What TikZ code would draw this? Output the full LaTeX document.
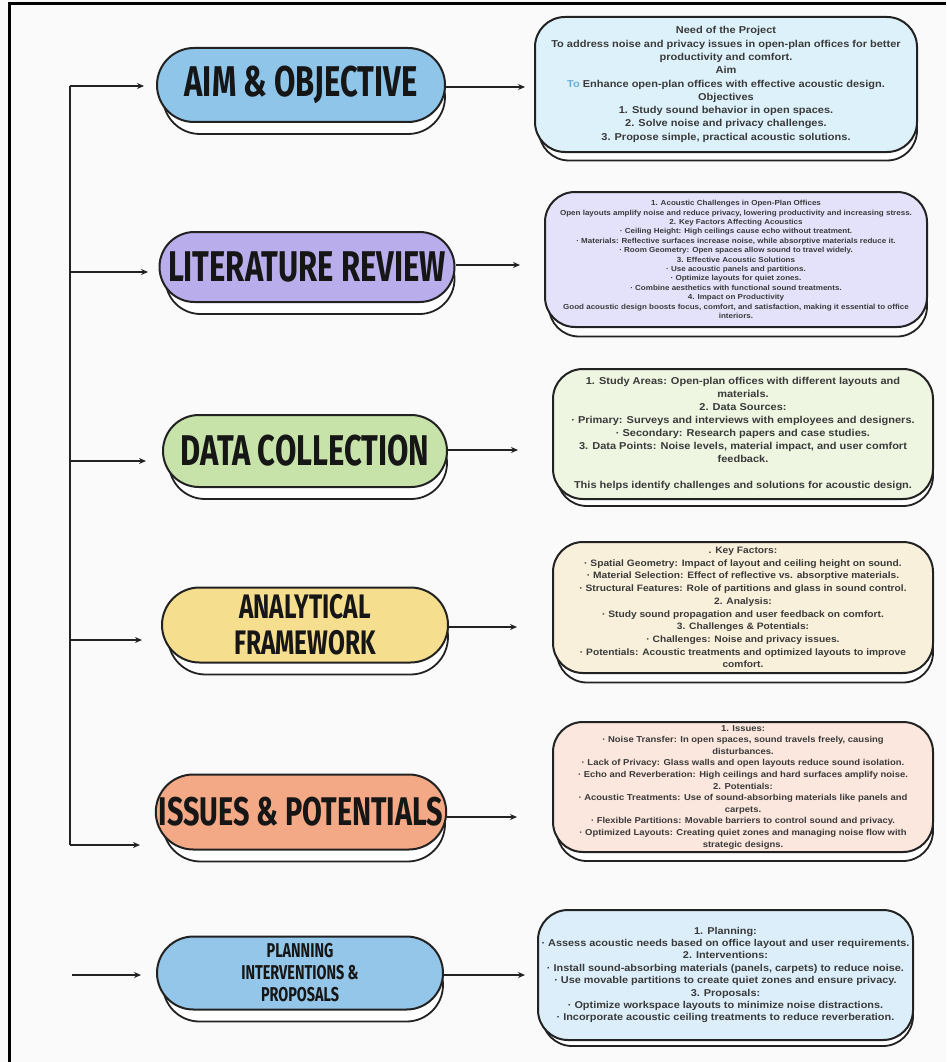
\documentclass[tikz,border=0pt]{standalone}
\usepackage{fontspec}
\setmainfont{Liberation Sans}[FakeStretch=1.1]
\newfontfamily\titlefont[FakeStretch=0.72]{Fira Sans}
\usetikzlibrary{arrows.meta,shapes.misc}
\definecolor{bgc}{HTML}{FAFAFA}
\definecolor{linec}{HTML}{222222}
\definecolor{txt}{HTML}{3A3A3A}
\definecolor{ttl}{HTML}{161616}
\definecolor{pa}{HTML}{8EC5E8}
\definecolor{pb}{HTML}{B9AEEB}
\definecolor{pc}{HTML}{C7E3A9}
\definecolor{pd}{HTML}{F5DE8E}
\definecolor{pe}{HTML}{F3A985}
\definecolor{pf}{HTML}{93C6E8}
\definecolor{ra}{HTML}{DDF1FB}
\definecolor{rb}{HTML}{E4E2FA}
\definecolor{rc}{HTML}{EEF6E1}
\definecolor{rd}{HTML}{F8F0DA}
\definecolor{re}{HTML}{FBE7DD}
\definecolor{rf}{HTML}{DCEEF9}
\definecolor{tob}{HTML}{6AAED8}
\tikzset{
  pill/.style={rounded rectangle, draw=linec, line width=2pt, inner sep=0pt, align=center, text=ttl},
  pillsh/.style={pill, fill=white, line width=1.8pt},
  rbox/.style={rectangle, rounded corners=30pt, draw=linec, line width=2pt, inner sep=0pt, align=center, text=txt},
  rboxsh/.style={rbox, fill=white, line width=1.8pt},
  ln/.style={draw=linec, line width=1.8pt},
  arr/.style={ln, -{Stealth[length=7pt,width=6pt]}}
}
\begin{document}
\begin{tikzpicture}[x=1pt,y=-1pt]
\useasboundingbox (0,0) rectangle (946,1062);
\fill[bgc] (0,0) rectangle (946,1062);
\draw[line width=3pt, black] (9,1062) -- (9,4) -- (946,4);

% ---------- left pills ----------
\node[pillsh, minimum width=282pt, minimum height=74pt] (p1s) at (304,97) {};
\node[pill, fill=pa, minimum width=288pt, minimum height=74pt,
  font=\titlefont\bfseries\fontsize{43}{46}\selectfont] (p1) at (301,85) {AIM \& OBJECTIVE};

\node[pillsh, minimum width=289pt, minimum height=70pt] (p2s) at (310,279) {};
\node[pill, fill=pb, minimum width=295pt, minimum height=70pt,
  font=\titlefont\bfseries\fontsize{43}{46}\selectfont] (p2) at (307,267) {LITERATURE REVIEW};

\node[pillsh, minimum width=278pt, minimum height=72pt] (p3s) at (308,463) {};
\node[pill, fill=pc, minimum width=284pt, minimum height=72pt,
  font=\titlefont\bfseries\fontsize{43}{46}\selectfont] (p3) at (305,451) {DATA COLLECTION};

\node[pillsh, minimum width=280pt, minimum height=75pt] (p4s) at (308,637) {};
\node[pill, fill=pd, minimum width=286pt, minimum height=75pt,
  font=\titlefont\bfseries\fontsize{34}{36}\selectfont] (p4) at (305,625) {ANALYTICAL\\FRAMEWORK};

\node[pillsh, minimum width=282pt, minimum height=75pt] (p5s) at (304,824) {};
\node[pill, fill=pe, minimum width=288pt, minimum height=75pt,
  font=\titlefont\bfseries\fontsize{40}{43}\selectfont] (p5) at (301,812) {ISSUES \& POTENTIALS};

\node[pillsh, minimum width=280pt, minimum height=73pt] (p6s) at (303,985) {};
\node[pill, fill=pf, minimum width=286pt, minimum height=73pt,
  font=\titlefont\bfseries\fontsize{20}{22}\selectfont] (p6) at (300,973) {PLANNING\\INTERVENTIONS \&\\PROPOSALS};

% ---------- right boxes ----------
\node[rboxsh, minimum width=378pt, minimum height=135pt] (r1s) at (728,93) {};
\node[rbox, fill=ra, minimum width=382pt, minimum height=135pt,
  font=\bfseries\fontsize{10}{13.3}\selectfont] (r1) at (726,84.5)
  {Need of the Project\\
   To address noise and privacy issues in open-plan offices for better\\
   productivity and comfort.\\
   Aim\\
   {\color{tob}To} Enhance open-plan offices with effective acoustic design.\\
   Objectives\\
   1. Study sound behavior in open spaces.\\
   2. Solve noise and privacy challenges.\\
   3. Propose simple, practical acoustic solutions.};

\node[rboxsh, minimum width=378pt, minimum height=135pt] (r2s) at (738,269) {};
\node[rbox, fill=rb, minimum width=382pt, minimum height=135pt,
  font=\bfseries\fontsize{7.3}{9.4}\selectfont] (r2) at (736,259.5)
  {1. Acoustic Challenges in Open-Plan Offices\\
   Open layouts amplify noise and reduce privacy, lowering productivity and increasing stress.\\
   2. Key Factors Affecting Acoustics\\
   · Ceiling Height: High ceilings cause echo without treatment.\\
   · Materials: Reflective surfaces increase noise, while absorptive materials reduce it.\\
   · Room Geometry: Open spaces allow sound to travel widely.\\
   3. Effective Acoustic Solutions\\
   · Use acoustic panels and partitions.\\
   · Optimize layouts for quiet zones.\\
   · Combine aesthetics with functional sound treatments.\\
   4. Impact on Productivity\\
   Good acoustic design boosts focus, comfort, and satisfaction, making it essential to office\\
   interiors.};

\node[rboxsh, minimum width=376pt, minimum height=130pt] (r3s) at (745,441) {};
\node[rbox, fill=rc, minimum width=380pt, minimum height=130pt,
  font=\bfseries\fontsize{10}{13.1}\selectfont] (r3) at (743,434)
  {1. Study Areas: Open-plan offices with different layouts and\\
   materials.\\
   2. Data Sources:\\
   · Primary: Surveys and interviews with employees and designers.\\
   · Secondary: Research papers and case studies.\\
   3. Data Points: Noise levels, material impact, and user comfort\\
   feedback.\\
   \mbox{}\\
   This helps identify challenges and solutions for acoustic design.};

\node[rboxsh, minimum width=376pt, minimum height=131pt] (r4s) at (745,617) {};
\node[rbox, fill=rd, minimum width=380pt, minimum height=131pt,
  font=\bfseries\fontsize{9.3}{12.7}\selectfont] (r4) at (743,607.5)
  {. Key Factors:\\
   · Spatial Geometry: Impact of layout and ceiling height on sound.\\
   · Material Selection: Effect of reflective vs. absorptive materials.\\
   · Structural Features: Role of partitions and glass in sound control.\\
   2. Analysis:\\
   · Study sound propagation and user feedback on comfort.\\
   3. Challenges \& Potentials:\\
   · Challenges: Noise and privacy issues.\\
   · Potentials: Acoustic treatments and optimized layouts to improve\\
   comfort.};

\node[rboxsh, minimum width=376pt, minimum height=130pt] (r5s) at (745,796) {};
\node[rbox, fill=re, minimum width=380pt, minimum height=130pt,
  font=\bfseries\fontsize{8.6}{11.6}\selectfont] (r5) at (743,787)
  {1. Issues:\\
   · Noise Transfer: In open spaces, sound travels freely, causing\\
   disturbances.\\
   · Lack of Privacy: Glass walls and open layouts reduce sound isolation.\\
   · Echo and Reverberation: High ceilings and hard surfaces amplify noise.\\
   2. Potentials:\\
   · Acoustic Treatments: Use of sound-absorbing materials like panels and\\
   carpets.\\
   · Flexible Partitions: Movable barriers to control sound and privacy.\\
   · Optimized Layouts: Creating quiet zones and managing noise flow with\\
   strategic designs.};

\node[rboxsh, minimum width=371pt, minimum height=130pt] (r6s) at (727.5,981) {};
\node[rbox, fill=rf, minimum width=375pt, minimum height=130pt,
  font=\bfseries\fontsize{9.9}{12.4}\selectfont] (r6) at (725.5,975)
  {1. Planning:\\
   · Assess acoustic needs based on office layout and user requirements.\\
   2. Interventions:\\
   · Install sound-absorbing materials (panels, carpets) to reduce noise.\\
   · Use movable partitions to create quiet zones and ensure privacy.\\
   3. Proposals:\\
   · Optimize workspace layouts to minimize noise distractions.\\
   · Incorporate acoustic ceiling treatments to reduce reverberation.};

% ---------- left spine and arrows ----------
\coordinate (s1) at (70,86);
\coordinate (s2) at (70,272);
\coordinate (s3) at (70,461);
\coordinate (s4) at (70,640);
\coordinate (s5) at (70,845);
\coordinate (s6) at (72,975);
\coordinate (t1) at (144,86);
\coordinate (t2) at (148,272);
\coordinate (t3) at (146,461);
\coordinate (t4) at (142,640);
\coordinate (t5) at (140,845);
\coordinate (t6) at (141,975);
\draw[ln] (s1) -- (s5);
\draw[arr] (s1) -- (t1);
\draw[arr] (s2) -- (t2);
\draw[arr] (s3) -- (t3);
\draw[arr] (s4) -- (t4);
\draw[arr] (s5) -- (t5);
\draw[arr] (s6) -- (t6);

% ---------- right arrows ----------
\coordinate (u1) at (525,87);
\coordinate (u2) at (520,265);
\coordinate (u3) at (518,450);
\coordinate (u4) at (517,627);
\coordinate (u5) at (517,817);
\coordinate (u6) at (525,975);
\draw[arr] (p1.east |- u1) -- (u1);
\draw[arr] (p2.east |- u2) -- (u2);
\draw[arr] (p3.east |- u3) -- (u3);
\draw[arr] (p4.east |- u4) -- (u4);
\draw[arr] (p5.east |- u5) -- (u5);
\draw[arr] (p6.east |- u6) -- (u6);
\end{tikzpicture}
\end{document}
